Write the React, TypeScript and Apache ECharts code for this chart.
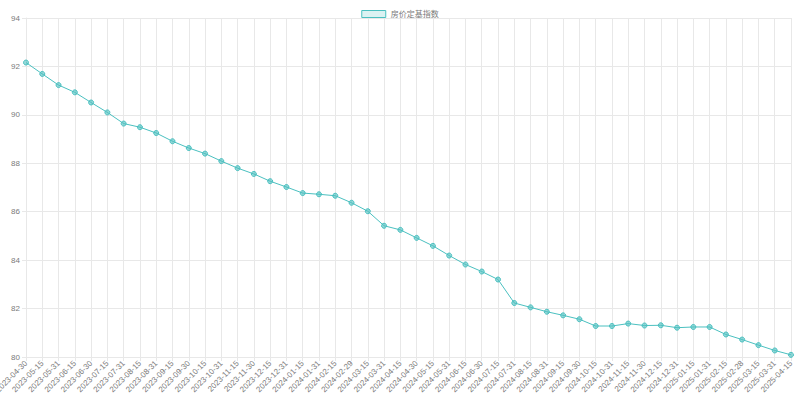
import React, { useEffect, useRef } from "react";
import * as echarts from "echarts";

const seriesName = "房价定基指数";

const dates = [
  "2023-04-30", "2023-05-15", "2023-05-31", "2023-06-15", "2023-06-30", "2023-07-15", "2023-07-31",
  "2023-08-15", "2023-08-31", "2023-09-15", "2023-09-30", "2023-10-15", "2023-10-31", "2023-11-15",
  "2023-11-30", "2023-12-15", "2023-12-31", "2024-01-15", "2024-01-31", "2024-02-15", "2024-02-29",
  "2024-03-15", "2024-03-31", "2024-04-15", "2024-04-30", "2024-05-15", "2024-05-31", "2024-06-15",
  "2024-06-30", "2024-07-15", "2024-07-31", "2024-08-15", "2024-08-31", "2024-09-15", "2024-09-30",
  "2024-10-15", "2024-10-31", "2024-11-15", "2024-11-30", "2024-12-15", "2024-12-31", "2025-01-15",
  "2025-01-31", "2025-02-15", "2025-02-28", "2025-03-15", "2025-03-31", "2025-04-15",
];

const indexValues = [
  92.16, 91.69, 91.23, 90.93, 90.51, 90.1, 89.64, 89.49, 89.25, 88.91, 88.63, 88.4, 88.09, 87.8,
  87.56, 87.26, 87.02, 86.77, 86.72, 86.66, 86.37, 86.02, 85.42, 85.25, 84.92, 84.59, 84.19, 83.82,
  83.53, 83.2, 82.23, 82.05, 81.87, 81.72, 81.56, 81.28, 81.28, 81.38, 81.3, 81.31, 81.21, 81.24,
  81.24, 80.93, 80.72, 80.49, 80.27, 80.09,
];

const yMin = 80;
const yMax = 94;
const yStep = 2;

const FONT = "'Liberation Sans', 'Noto Sans CJK SC', sans-serif";
const GRID = "#e8e8e8";
const TEAL = "#4bc0c0";
const LABEL = "#7a7a7a";

export default function App() {
  const ref = useRef<HTMLDivElement>(null);
  useEffect(() => {
    if (!ref.current) return;
    const chart = echarts.init(ref.current, undefined, { renderer: "svg" });
    chart.setOption({
      animation: false,
      textStyle: { fontFamily: FONT },
      legend: {
        top: 5,
        left: "center",
        itemWidth: 24,
        itemHeight: 7,
        itemGap: 5,
        icon: "rect",
        textStyle: { fontSize: 8, color: LABEL, fontFamily: FONT },
        data: [
          {
            name: seriesName,
            itemStyle: { color: "rgba(75,192,192,0.2)", borderColor: TEAL, borderWidth: 1 },
          },
        ],
      },
      grid: { left: 26, right: 9, top: 18, bottom: 42, containLabel: false, outerBoundsMode: "none" },
      xAxis: {
        type: "category",
        data: dates,
        boundaryGap: false,
        axisLine: { show: true, lineStyle: { color: GRID } },
        axisTick: { show: true, length: 4, interval: 0, lineStyle: { color: GRID } },
        splitLine: { show: true, interval: 0, lineStyle: { color: GRID, width: 1 } },
        axisLabel: {
          interval: 0,
          rotate: 45,
          fontSize: 8,
          color: LABEL,
          margin: 5,
          hideOverlap: false,
          fontFamily: FONT,
        },
      },
      yAxis: {
        type: "value",
        min: yMin,
        max: yMax,
        interval: yStep,
        axisLine: { show: true, lineStyle: { color: GRID } },
        axisTick: { show: true, length: 4, lineStyle: { color: GRID } },
        splitLine: { show: true, lineStyle: { color: GRID, width: 1 } },
        axisLabel: { fontSize: 8, color: LABEL, margin: 6, fontFamily: FONT },
      },
      series: [
        {
          name: seriesName,
          type: "line",
          data: indexValues,
          symbol: "circle",
          symbolSize: 5,
          showSymbol: true,
          lineStyle: { color: TEAL, width: 1 },
          itemStyle: { color: "rgba(75,192,192,0.6)", borderColor: TEAL, borderWidth: 1 },
        },
      ],
    });
    return () => chart.dispose();
  }, []);
  return (
    <div
      ref={ref}
      style={{ position: "fixed", left: 0, top: 0, width: 800, height: 399, background: "#fff" }}
    />
  );
}
